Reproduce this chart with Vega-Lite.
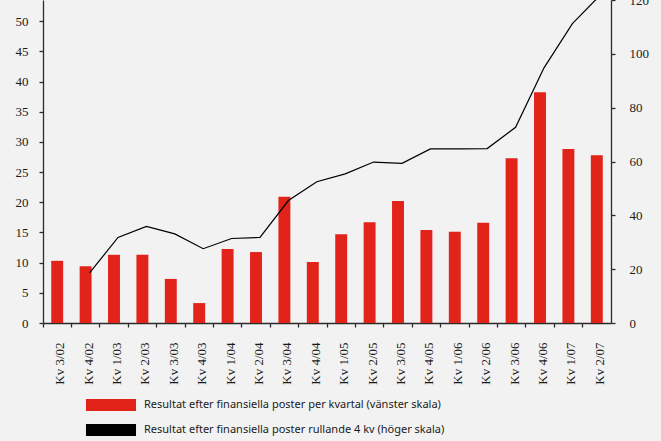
{
  "$schema": "https://vega.github.io/schema/vega-lite/v6.json",
  "width": 568,
  "height": 323,
  "autosize": {"type": "none"},
  "padding": {"left": 43, "top": 0, "right": 50, "bottom": 118},
  "background": "#f2f2f2",
  "config": {
    "view": {"stroke": null},
    "axis": {
      "labelFont": "Liberation Serif",
      "labelFontSize": 13,
      "labelColor": "#1a1a1a",
      "domainColor": "#2b2b2b",
      "domainWidth": 1.3,
      "tickColor": "#2b2b2b",
      "tickWidth": 1.3,
      "grid": false
    }
  },
  "data": {
    "values": [
      {"q": "Kv 3/02", "kvartal": 10.3, "rullande": null},
      {"q": "Kv 4/02", "kvartal": 9.4, "rullande": 18.6},
      {"q": "Kv 1/03", "kvartal": 11.3, "rullande": 31.8},
      {"q": "Kv 2/03", "kvartal": 11.3, "rullande": 35.9},
      {"q": "Kv 3/03", "kvartal": 7.3, "rullande": 33.1},
      {"q": "Kv 4/03", "kvartal": 3.3, "rullande": 27.6},
      {"q": "Kv 1/04", "kvartal": 12.25, "rullande": 31.4},
      {"q": "Kv 2/04", "kvartal": 11.75, "rullande": 31.8},
      {"q": "Kv 3/04", "kvartal": 20.9, "rullande": 45.5},
      {"q": "Kv 4/04", "kvartal": 10.1, "rullande": 52.5},
      {"q": "Kv 1/05", "kvartal": 14.7, "rullande": 55.4},
      {"q": "Kv 2/05", "kvartal": 16.7, "rullande": 59.8},
      {"q": "Kv 3/05", "kvartal": 20.2, "rullande": 59.3},
      {"q": "Kv 4/05", "kvartal": 15.4, "rullande": 64.7},
      {"q": "Kv 1/06", "kvartal": 15.1, "rullande": 64.7},
      {"q": "Kv 2/06", "kvartal": 16.6, "rullande": 64.8},
      {"q": "Kv 3/06", "kvartal": 27.3, "rullande": 72.7},
      {"q": "Kv 4/06", "kvartal": 38.2, "rullande": 94.8},
      {"q": "Kv 1/07", "kvartal": 28.8, "rullande": 111.2},
      {"q": "Kv 2/07", "kvartal": 27.8, "rullande": 122}
    ]
  },
  "encoding": {
    "x": {
      "field": "q",
      "type": "ordinal",
      "sort": null,
      "scale": {"paddingInner": 0, "paddingOuter": 0},
      "axis": {
        "title": null,
        "bandPosition": 0,
        "labelAngle": -90,
        "labelAlign": "right",
        "labelBaseline": "middle",
        "labelOffset": 3,
        "labelPadding": 15,
        "tickSize": 4
      }
    }
  },
  "layer": [
    {
      "mark": {"type": "bar", "width": {"band": 0.42}},
      "encoding": {
        "y": {
          "field": "kvartal",
          "type": "quantitative",
          "scale": {"domain": [0, 53.5], "nice": false},
          "axis": {
            "title": null,
            "values": [0, 5, 10, 15, 20, 25, 30, 35, 40, 45, 50],
            "tickSize": 4,
            "labelPadding": 11
          }
        },
        "color": {
          "datum": "Resultat efter finansiella poster per kvartal (vänster skala)",
          "type": "nominal",
          "scale": {
            "domain": [
              "Resultat efter finansiella poster per kvartal (vänster skala)",
              "Resultat efter finansiella poster rullande 4 kv (höger skala)"
            ],
            "range": ["#e2231a", "#000000"]
          },
          "legend": {
            "orient": "none",
            "legendX": 43,
            "legendY": 399,
            "direction": "vertical",
            "title": null,
            "padding": 0,
            "symbolType": "M-4.17,-1H4.17V1H-4.17Z",
            "symbolSize": 144,
            "symbolStrokeWidth": 0,
            "symbolOffset": 19,
            "labelOffset": 27,
            "labelFont": "Noto Sans",
            "labelFontSize": 11,
            "labelColor": "#1a1a1a",
            "labelLimit": 500,
            "rowPadding": 13,
            "encode": {
              "symbols": {
                "update": {
                  "fill": {"scale": "color", "field": "value"},
                  "stroke": {"value": "transparent"}
                }
              }
            }
          }
        }
      }
    },
    {
      "mark": {"type": "line", "strokeWidth": 1.2, "xOffset": 4},
      "encoding": {
        "y": {
          "field": "rullande",
          "type": "quantitative",
          "scale": {"domain": [0, 120], "nice": false},
          "axis": {
            "title": null,
            "orient": "right",
            "values": [0, 20, 40, 60, 80, 100, 120],
            "tickSize": 4,
            "labelPadding": 14
          }
        },
        "color": {
          "datum": "Resultat efter finansiella poster rullande 4 kv (höger skala)",
          "type": "nominal"
        }
      }
    }
  ],
  "resolve": {"scale": {"y": "independent"}}
}
